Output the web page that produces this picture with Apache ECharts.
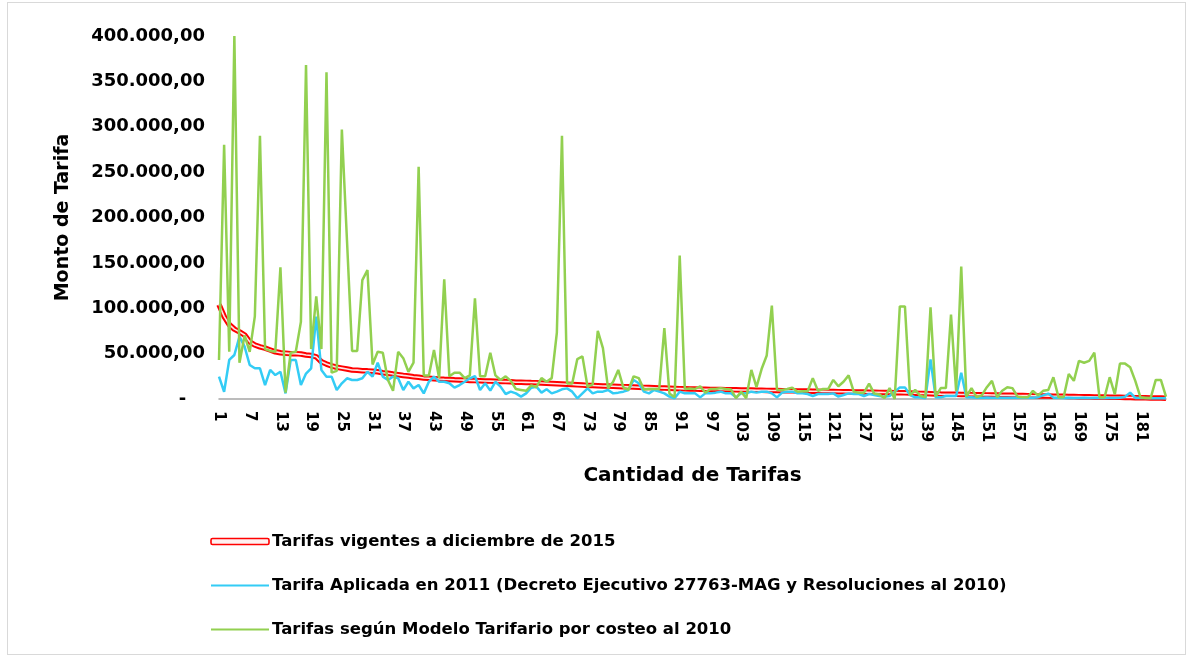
<!DOCTYPE html>
<html>
<head>
<meta charset="utf-8">
<script src="https://cdn.jsdelivr.net/npm/echarts@6/dist/echarts.min.js"></script>
<style>
html,body{margin:0;padding:0;background:#fff;}
#frame{position:absolute;left:7px;top:2px;width:1179px;height:653px;border:1px solid #d9d9d9;box-sizing:border-box;}
#chart{position:absolute;left:0;top:0;width:1193px;height:660px;}
</style>
</head>
<body>
<div id="frame"></div>
<div id="chart"></div>
<script>
const seriesNames = [
  'Tarifas vigentes a diciembre de 2015',
  'Tarifa Aplicada en 2011 (Decreto Ejecutivo 27763-MAG y Resoluciones al 2010)',
  'Tarifas según Modelo Tarifario por costeo al 2010'
];
const categories = Array.from({length: 186}, (_, i) => String(i + 1));
const yTicks = [0, 50000, 100000, 150000, 200000, 250000, 300000, 350000, 400000];

const tarifas2015 = [
 104000,91000,82000,77000,74000,70500,63000,59500,57500,56000,
 54000,52000,51000,50500,50000,50000,49500,48500,48000,46500,
 41000,38500,36500,35000,34000,33000,32000,31800,31200,31000,
 30500,30000,29000,28300,27500,26800,26000,25300,24600,24000,
 23100,22800,22400,22000,21700,21500,21200,21000,20800,20500,
 20300,20100,19900,19700,19500,19300,19200,19000,18500,18400,
 18300,18100,18000,17700,17400,17100,16800,16500,16200,15900,
 15600,15300,15000,14800,14600,14400,14200,14000,13800,13600,
 13400,13200,13000,12800,12600,12400,12200,12000,11800,11600,
 11400,11200,11000,10900,10800,10700,10600,10500,10400,10300,
 10200,10100,10000,9900,9800,9700,9600,9500,9400,9300,
 9200,9100,9000,8900,8800,8700,8600,8500,8400,8300,
 8200,8100,8000,7900,7800,7700,7600,7500,7400,7300,
 7200,7100,7000,6900,6800,6600,6400,6200,6000,5800,
 5600,5400,5300,5200,5100,5000,4900,4800,4700,4600,
 4500,4400,4300,4200,4100,4000,3900,3800,3700,3500,
 3400,3300,3200,3100,3000,2900,2800,2700,2600,2500,
 2400,2300,2200,2100,2000,1900,1800,1700,1600,1500,
 1400,1300,1200,1100,1000,700
];

const tarifa2011 = [
 24600,8000,43000,48500,68700,57700,37500,33800,33800,15400,
 32000,26400,30000,6200,43000,43000,15400,28000,33800,90700,
 32000,24600,24600,9900,17300,22800,21000,21000,22800,30000,
 24600,40000,24600,21000,24600,22800,9900,19000,11700,15400,
 6200,19000,24600,19000,19000,17300,12500,15400,19000,22800,
 25300,9900,17300,9200,19000,13600,5500,8100,6200,2600,
 6200,12500,13600,7000,10700,6200,8100,10700,11700,8100,
 700,6200,11700,6200,8100,8100,9900,6200,7000,8100,
 9900,21000,17300,8100,6200,9900,8100,6200,2600,700,
 8100,6200,6200,6200,1800,6200,6200,7000,8100,6200,
 6200,1800,6200,6200,8100,7000,8100,8100,6200,1800,
 7000,8100,8100,6200,6200,5500,3300,5500,5500,5500,
 6200,2600,4400,6200,5500,5500,3300,5500,4400,3300,
 2600,3300,8100,12800,12800,4400,1800,1800,700,43700,
 1800,1800,3300,3300,3300,29000,1800,1800,1500,1500,
 1600,1500,1400,1500,1500,1400,1300,1400,1500,1400,
 2000,4000,6000,1500,1300,1200,1300,1200,1200,1300,
 1200,1500,1100,1200,1100,1200,1300,2500,7000,1200,
 1000,1000,900,900,800,800
];

const modelo2010 = [
 43000,280000,52000,400000,40000,70000,52000,91000,290000,55000,
 53000,52000,145000,7000,51000,52000,85000,368000,55000,113000,
 55000,360000,29000,31000,297000,175000,53000,53000,131000,142000,
 38000,52000,51000,21000,9000,52000,45000,30000,40000,256000,
 26000,26000,54000,23000,132000,25000,29000,29000,23000,26000,
 111000,25000,25000,51000,26000,21000,25000,20000,11000,10000,
 9000,15000,13000,23000,19000,23000,73000,290000,17000,17000,
 44000,47000,13500,16000,75000,56000,12000,19000,32000,12500,
 10000,25000,23000,10500,11000,11000,11000,78000,6000,2000,
 158000,11000,11500,11000,14000,7000,11000,11000,12000,11000,
 10500,1000,8000,1000,32000,13000,33000,48000,103000,10000,
 10000,11000,12500,8000,8500,8500,23000,9000,11000,11000,
 21000,14000,19000,26000,8000,7000,7000,17000,6000,5000,
 1000,12000,0,102000,102000,4000,10000,3500,2000,101000,
 2500,12000,12000,93000,9000,146000,2500,12000,2000,4000,
 13000,20000,2000,9000,13000,12000,2500,2000,2000,9000,
 4000,9000,10000,24000,2000,2000,27500,20000,42000,40000,
 42000,51000,2000,2000,24000,5000,39000,39000,35000,20000,
 2000,1000,1000,21000,21000,2500
];

const FONT = 'DejaVu Sans';

function fmtY(v) {
  if (v === 0) return '-   ';
  const s = String(Math.round(v));
  const withDots = s.replace(/\B(?=(\d{3})+(?!\d))/g, '.');
  return withDots + ',00';
}

const chart = echarts.init(document.getElementById('chart'), null, {renderer: 'canvas'});
chart.setOption({
  backgroundColor: 'transparent',
  animation: false,
  textStyle: {fontFamily: FONT},
  grid: {left: 219, right: 27, top: 36, bottom: 261, containLabel: false, outerBoundsMode: 'none'},
  legend: {
    orient: 'vertical',
    left: 210,
    top: 532,
    padding: 0,
    itemWidth: 58,
    itemHeight: 6,
    itemGap: 25,
    textStyle: {fontFamily: FONT, fontSize: 16.5, fontWeight: 'bold', color: '#000', lineHeight: 19, padding: [0, 0, 0, -2]},
    data: [
      {name: seriesNames[0], icon: 'roundRect', itemStyle: {color: '#fff0f0', borderColor: '#ff0000', borderWidth: 1.6, opacity: 1}},
      {name: seriesNames[1], itemStyle: {opacity: 0}},
      {name: seriesNames[2], itemStyle: {opacity: 0}}
    ]
  },
  xAxis: {
    type: 'category',
    data: categories,
    boundaryGap: false,
    name: 'Cantidad de Tarifas',
    nameLocation: 'middle',
    nameGap: 67,
    nameTextStyle: {fontFamily: FONT, fontSize: 20, fontWeight: 'bold', color: '#000'},
    axisLine: {show: true, lineStyle: {color: '#a6a6a6', width: 1.5}},
    axisTick: {show: false},
    axisLabel: {interval: 5, rotate: -90, margin: 12, fontFamily: FONT, fontSize: 15, fontWeight: 'bold', color: '#000'},
    splitLine: {show: false}
  },
  yAxis: {
    type: 'value',
    min: 0,
    max: 400000,
    interval: 50000,
    name: 'Monto de Tarifa',
    nameLocation: 'middle',
    nameRotate: 90,
    nameGap: 146,
    nameTextStyle: {fontFamily: FONT, fontSize: 19, fontWeight: 'bold', color: '#000'},
    axisLine: {show: false},
    axisTick: {show: false},
    splitLine: {show: false},
    axisLabel: {margin: 14, fontFamily: FONT, fontSize: 18, fontWeight: 'bold', color: '#000', formatter: fmtY}
  },
  series: [
    {
      name: seriesNames[0], type: 'line', data: tarifas2015, symbol: 'none',
      lineStyle: {color: '#ff0000', width: 5.5}, itemStyle: {color: '#ff0000'}
    },
    {
      name: 'centro', type: 'line', data: tarifas2015, symbol: 'none', silent: true,
      lineStyle: {color: '#ffe4e4', width: 1.6}
    },
    {
      name: seriesNames[1], type: 'line', data: tarifa2011, symbol: 'none',
      lineStyle: {color: '#33ccf5', width: 2.5}, itemStyle: {color: '#33ccf5'}
    },
    {
      name: seriesNames[2], type: 'line', data: modelo2010, symbol: 'none',
      lineStyle: {color: '#92d050', width: 2.5}, itemStyle: {color: '#92d050'}
    }
  ]
});
</script>
</body>
</html>
